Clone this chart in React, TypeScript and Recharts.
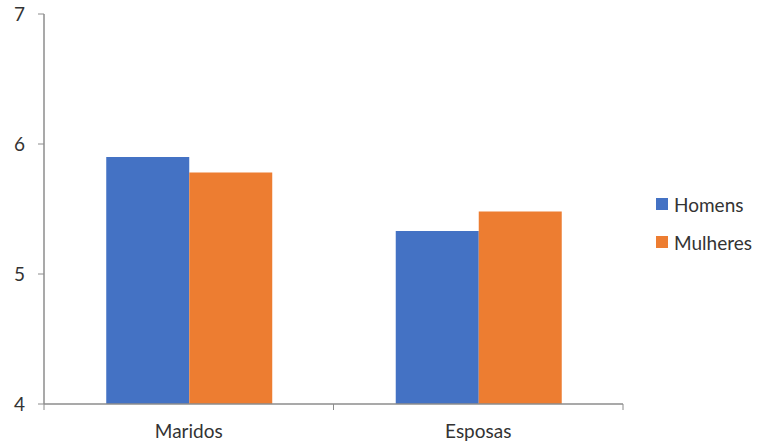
import React from 'react';
import { BarChart, Bar, XAxis, YAxis, Legend } from 'recharts';

const categories = ['Maridos', 'Esposas'];
const homens = [5.9, 5.33];
const mulheres = [5.78, 5.48];
const seriesNames = ['Homens', 'Mulheres'];
const seriesColors = ['#4472C4', '#ED7D31'];
const yTicks = [4, 5, 6, 7];

const data = categories.map((c, i) => ({ name: c, Homens: homens[i], Mulheres: mulheres[i] }));

const W = 761;
const H = 445;
const M = { top: 14, right: 138, left: 0, bottom: 11 };
const Y_W = 44;
const FONT = 'Lato, "Open Sans", sans-serif';
const FS = 19;
const AXIS = '#8c8c8c';
const TEXT = '#333333';

const band = (W - M.left - M.right - Y_W) / categories.length;

const XTick = (props: any) => {
  const { x, y, payload } = props;
  const ay = y - 8;
  return (
    <g>
      <line x1={x - band / 2} x2={x - band / 2} y1={ay} y2={ay + 6} stroke={AXIS} strokeWidth={1} />
      <line x1={x + band / 2} x2={x + band / 2} y1={ay} y2={ay + 6} stroke={AXIS} strokeWidth={1} />
      <text x={x} y={ay + 21} textAnchor="middle" dy="0.71em" fill={TEXT} fontSize={FS} fontFamily={FONT}>
        {payload.value}
      </text>
    </g>
  );
};

const LegendContent = () => (
  <div style={{ fontFamily: FONT, fontSize: FS, color: TEXT }}>
    {seriesNames.map((n, i) => (
      <div key={n} style={{ display: 'flex', alignItems: 'center', height: 22, marginBottom: 16 }}>
        <span style={{ display: 'inline-block', width: 12, height: 12, background: seriesColors[i], marginRight: 6 }} />
        <span>{n}</span>
      </div>
    ))}
  </div>
);

export default function App() {
  return (
    <div style={{ position: 'absolute', left: 0, top: 0, width: W, height: H, background: '#fff' }}>
      <BarChart width={W} height={H} data={data} margin={M} barCategoryGap="21.5%" barGap={0}>
        <XAxis
          dataKey="name"
          axisLine={{ stroke: AXIS, strokeWidth: 1.5 }}
          tickLine={false}
          tick={<XTick />}
          height={30}
          interval={0}
        />
        <YAxis
          domain={[4, 7]}
          ticks={yTicks}
          width={Y_W}
          axisLine={{ stroke: AXIS, strokeWidth: 1.5 }}
          tickLine={{ stroke: AXIS }}
          tickSize={6}
          tickMargin={13}
          tick={{ fill: TEXT, fontSize: FS, fontFamily: FONT }}
          allowDataOverflow
        />
        <Legend
          layout="vertical"
          align="center"
          verticalAlign="middle"
          content={<LegendContent />}
          wrapperStyle={{ left: 656, top: 193, width: 105 }}
        />
        <Bar dataKey="Homens" fill={seriesColors[0]} isAnimationActive={false} />
        <Bar dataKey="Mulheres" fill={seriesColors[1]} isAnimationActive={false} />
      </BarChart>
    </div>
  );
}
